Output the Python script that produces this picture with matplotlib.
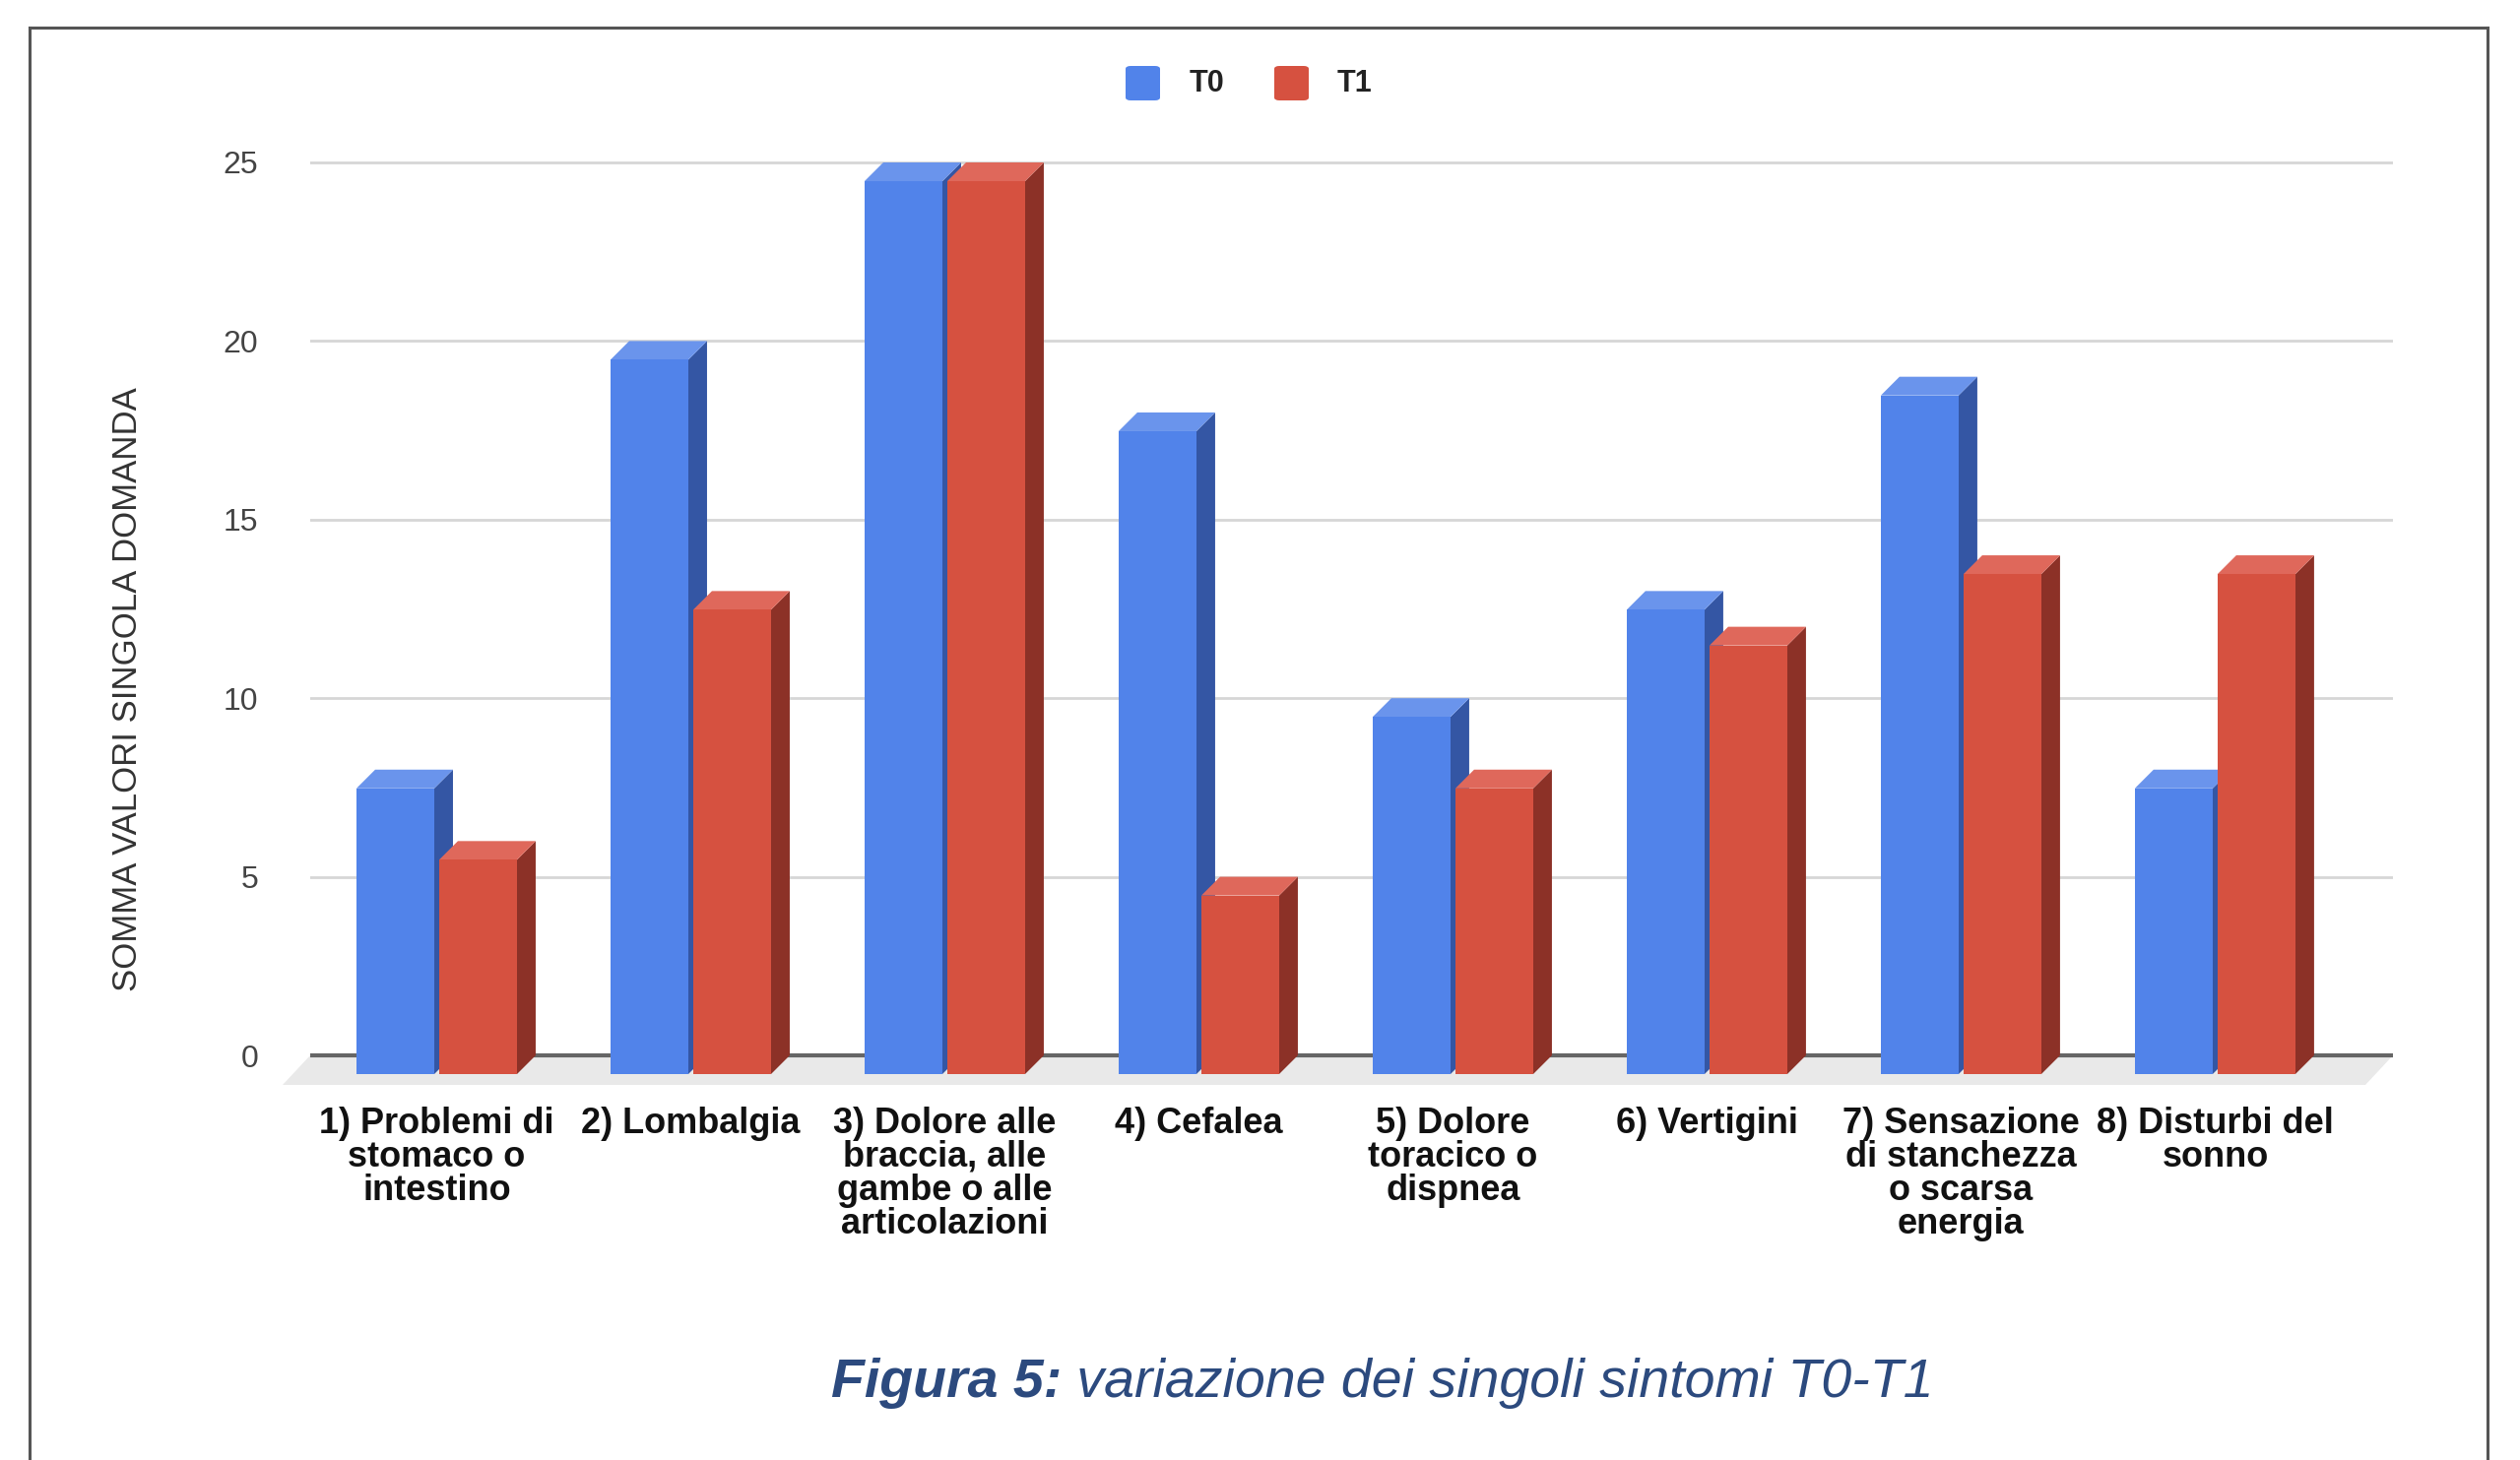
import matplotlib
matplotlib.use('Agg')
import matplotlib.pyplot as plt
from matplotlib.patches import Polygon, Rectangle, FancyBboxPatch
from matplotlib.lines import Line2D

plt.rcParams['font.family'] = ['Liberation Sans', 'DejaVu Sans']

categories = ['1) Problemi di\nstomaco o\nintestino', '2) Lombalgia',
              '3) Dolore alle\nbraccia, alle\ngambe o alle\narticolazioni',
              '4) Cefalea', '5) Dolore\ntoracico o\ndispnea', '6) Vertigini',
              '7) Sensazione\ndi stanchezza\no scarsa\nenergia',
              '8) Disturbi del\nsonno']
t0 = [8, 20, 25, 18, 10, 13, 19, 8]
t1 = [6, 13, 25, 5, 8, 12, 14, 14]
series_names = ['T0', 'T1']
y_ticks = [0, 5, 10, 15, 20, 25]

# front, side, top colours
blue = ('#5183ea', '#3456a4', '#6a94ec')
red = ('#d65140', '#8c3127', '#df685b')

W, H = 2559, 1483
fig = plt.figure(figsize=(W / 100, H / 100), dpi=100)

# plot area in pixels
x_left_px, x_right_px = 315, 2430
xmin, xmax = -0.498, 7.70
ymin, ymax = -1.5, 25.5
y0_px, y25_px = 1072, 165
ppu_y = (y0_px - y25_px) / 25
top_px = y25_px - (ymax - 25) * ppu_y
bot_px = y0_px - ymin * ppu_y
ax = fig.add_axes([x_left_px / W, 1 - bot_px / H,
                   (x_right_px - x_left_px) / W, (bot_px - top_px) / H])
ax.set_xlim(xmin, xmax)
ax.set_ylim(ymin, ymax)
for s in ax.spines.values():
    s.set_visible(False)

ppu_x = (x_right_px - x_left_px) / (xmax - xmin)
dx = 19 / ppu_x
dy = 19 / ppu_y

# floor
fdx, fdy = 28 / ppu_x, 30 / ppu_y
ax.add_patch(Polygon([(xmin, 0), (xmax, 0), (xmax - fdx, -fdy), (xmin - fdx, -fdy)],
                     closed=True, facecolor='#e9e9e9', edgecolor='none',
                     clip_on=False, zorder=0))

for t in y_ticks[1:]:
    ax.axhline(t, color='#d6d6d6', lw=2, zorder=1)
ax.axhline(0, color='#666666', lw=3, zorder=1)


def bar3d(xf, w, v, cols):
    front, side, top = cols
    ax.add_patch(Polygon([(xf + w, v - dy), (xf + w + dx, v), (xf + w + dx, 0), (xf + w, -dy)],
                         closed=True, facecolor=side, edgecolor='none', zorder=3, clip_on=False))
    ax.add_patch(Polygon([(xf, v - dy), (xf + dx, v), (xf + w + dx, v), (xf + w, v - dy)],
                         closed=True, facecolor=top, edgecolor='none', zorder=3, clip_on=False))
    ax.add_patch(Rectangle((xf, -dy), w, v, facecolor=front, edgecolor='none',
                           zorder=3, clip_on=False))


bw = 79 / ppu_x
off = 42 / ppu_x
for i in range(len(categories)):
    bar3d(i - off - bw / 2, bw, t0[i], blue)
    bar3d(i + off - bw / 2, bw, t1[i], red)

ax.set_yticks(y_ticks)
ax.set_yticklabels([str(t) for t in y_ticks], fontsize=23, color='#444444')
ax.set_xticks(range(len(categories)))
ax.set_xticklabels(categories, fontsize=26, fontweight='bold', color='#111111',
                   linespacing=0.97, va='top')
ax.tick_params(axis='y', length=0, pad=38)
ax.tick_params(axis='x', length=0, pad=-2)

fig.text(130 / W, 1 - 700 / H, 'SOMMA VALORI SINGOLA DOMANDA', rotation=90,
         ha='center', va='center', fontsize=25, color='#333333')

# legend
for name, col, sx, tx in zip(series_names, [blue[0], red[0]], [1143, 1294], [1208, 1358]):
    fig.add_artist(FancyBboxPatch((sx / W, 1 - 102 / H), 35 / W, 35 / H,
                                  boxstyle='round,pad=0,rounding_size=0.002',
                                  transform=fig.transFigure, facecolor=col,
                                  edgecolor='none'))
    fig.text(tx / W, 1 - 85 / H, name, ha='left', va='center', fontsize=22,
             fontweight='bold', color='#222222')

# outer frame (open at the bottom)
fc = '#555555'
fig.add_artist(Line2D([30 / W, 30 / W], [0, 1 - 28 / H], color=fc, lw=2.2))
fig.add_artist(Line2D([30 / W, 2526 / W], [1 - 28 / H, 1 - 28 / H], color=fc, lw=2.2))
fig.add_artist(Line2D([2526 / W, 2526 / W], [0, 1 - 28 / H], color=fc, lw=2.2))

# caption
cap_y = 1 - 1405 / H
head = fig.text(844 / W, cap_y, 'Figura 5:', ha='left', va='center',
                fontsize=40, fontweight='bold', style='italic', color='#2c4a7e')
fig.canvas.draw()
bb = head.get_window_extent()
fig.text(bb.x1 / W, cap_y, ' variazione dei singoli sintomi T0-T1', ha='left',
         va='center', fontsize=40, style='italic', color='#2c4a7e')

fig.savefig('out.png', dpi=100, facecolor='white')
